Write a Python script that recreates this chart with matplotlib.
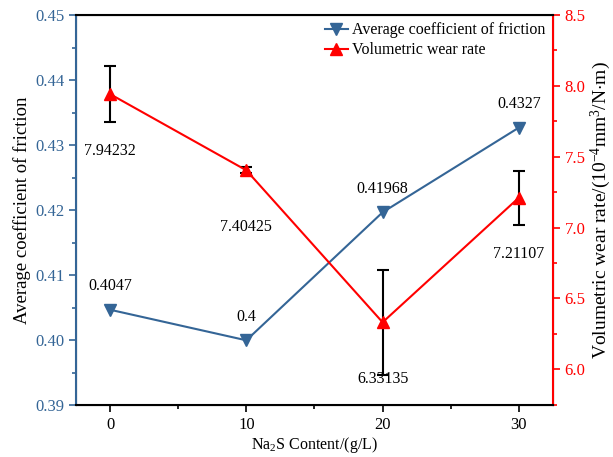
import matplotlib
matplotlib.use("Agg")
import matplotlib.pyplot as plt
from matplotlib.ticker import MultipleLocator, FormatStrFormatter

plt.rcParams["font.family"] = ["Liberation Serif", "DejaVu Serif"]
plt.rcParams["mathtext.fontset"] = "custom"
plt.rcParams["mathtext.rm"] = "Liberation Serif"
plt.rcParams["mathtext.it"] = "Liberation Serif:italic"

# data
na2s = [0, 10, 20, 30]
friction = [0.4047, 0.4, 0.41968, 0.4327]
wear = [7.94232, 7.40425, 6.33135, 7.21107]
wear_err = [0.20, 0.02, 0.37, 0.19]
friction_labels = ["0.4047", "0.4", "0.41968", "0.4327"]
wear_labels = ["7.94232", "7.40425", "6.33135", "7.21107"]

BLUE = "#346596"
RED = "#ff0000"

fig = plt.figure(figsize=(6.13, 4.57), dpi=100)
ax = fig.add_axes([0.124, 0.113, 0.778, 0.854])
ax2 = ax.twinx()

l1, = ax.plot(na2s, friction, color=BLUE, lw=1.5, marker="v", ms=9,
              label="Average coefficient of friction", zorder=3)
ax2.errorbar(na2s, wear, yerr=wear_err, fmt="none", ecolor="black",
             elinewidth=1.5, capsize=4, capthick=1.5, zorder=2)
l2, = ax2.plot(na2s, wear, color=RED, lw=1.5, marker="^", ms=9,
               label="Volumetric wear rate", zorder=3)

for x, y, s in zip(na2s, friction, friction_labels):
    ax.annotate(s, (x, y), xytext=(0, 11), textcoords="offset points",
                ha="center", va="bottom", fontsize=11.5)
for x, y, s in zip(na2s, wear, wear_labels):
    ax2.annotate(s, (x, y), xytext=(0, -35), textcoords="offset points",
                 ha="center", va="top", fontsize=11.5)

ax.set_xlim(-2.5, 32.5)
ax.set_ylim(0.39, 0.45)
ax2.set_ylim(5.745, 8.5)

ax.xaxis.set_major_locator(MultipleLocator(10))
ax.xaxis.set_minor_locator(MultipleLocator(5))
ax.yaxis.set_major_locator(MultipleLocator(0.01))
ax.yaxis.set_minor_locator(MultipleLocator(0.005))
ax2.yaxis.set_major_locator(MultipleLocator(0.5))
ax2.yaxis.set_minor_locator(MultipleLocator(0.25))
ax.yaxis.set_major_formatter(FormatStrFormatter("%.2f"))
ax2.yaxis.set_major_formatter(FormatStrFormatter("%.1f"))

ax.tick_params(axis="x", which="both", direction="out", labelsize=12)
ax.tick_params(axis="x", which="major", length=5, width=1.2)
ax.tick_params(axis="x", which="minor", length=3, width=1.2)
ax.tick_params(axis="y", which="both", colors=BLUE, labelsize=12, width=1.2)
ax.tick_params(axis="y", which="major", length=5)
ax.tick_params(axis="y", which="minor", length=3)
ax2.tick_params(axis="y", which="both", colors=RED, labelsize=12, width=1.2)
ax2.tick_params(axis="y", which="major", length=5)
ax2.tick_params(axis="y", which="minor", length=3)

for sp in ["top", "bottom"]:
    ax2.spines[sp].set_linewidth(1.5)
ax2.spines["left"].set_color(BLUE)
ax2.spines["left"].set_linewidth(1.5)
ax2.spines["right"].set_color(RED)
ax2.spines["right"].set_linewidth(1.5)

ax.set_xlabel(r"Na$_2$S Content/(g/L)", fontsize=11.5, labelpad=1)
ax.set_ylabel("Average coefficient of friction", fontsize=13.5, labelpad=3)
ax2.set_ylabel(r"Volumetric wear rate/(10$^{-4}$mm$^3$/N$\cdot$m)",
               fontsize=14, labelpad=2)

ax2.legend(handles=[l1, l2], loc="upper right", frameon=False, fontsize=11.5,
           handlelength=1.4, handletextpad=0.3, borderaxespad=0.05,
           labelspacing=0.25)

plt.savefig("out.png", dpi=100)
